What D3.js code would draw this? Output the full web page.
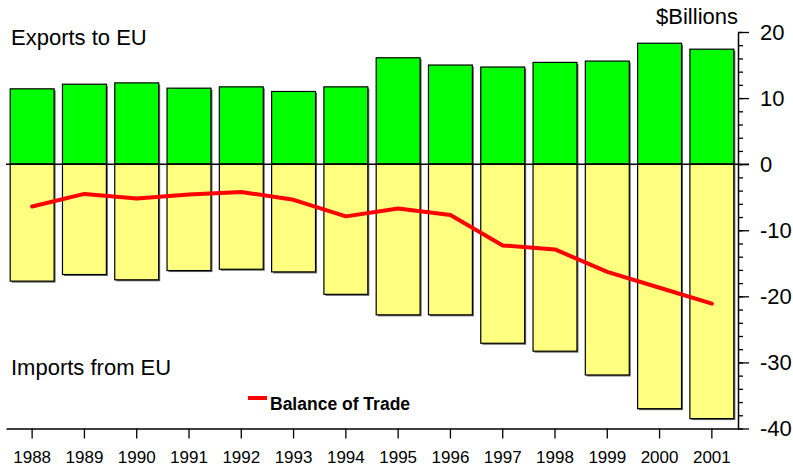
<!DOCTYPE html>
<html>
<head>
    <meta charset="utf-8">
    <style>
        body { margin: 0; background: #fff; }
        svg text { font-family: Arial, "Liberation Sans", sans-serif; fill: #000; }
        .label { font-size: 22px; }
        .legend { font-size: 17.5px; font-weight: bold; }
        .yaxis text { font-size: 22px; }
        .xaxis text { font-size: 17px; }
    </style>
    <script src="https://d3js.org/d3.v7.min.js"></script>
</head>
<body>
    <script>

        // values, $ billions
        var years = ["1988","1989","1990","1991","1992","1993","1994",
                     "1995","1996","1997","1998","1999","2000","2001"];
        var exportsToEU = [11.4, 12.1, 12.3, 11.5, 11.7, 11.0, 11.7,
                           16.1, 15.0, 14.7, 15.4, 15.6, 18.3, 17.4];
        var importsFromEU = [-17.7, -16.7, -17.5, -16.1, -15.9, -16.3, -19.7,
                             -22.8, -22.8, -27.1, -28.3, -31.9, -37.0, -38.5];
        var balanceOfTrade = [-6.4, -4.5, -5.2, -4.6, -4.2, -5.4, -7.9,
                              -6.7, -7.7, -12.3, -12.9, -16.3, -18.7, -21.1];
        var majorTicks = [20, 10, 0, -10, -20, -30, -40];
        var minorTicks = d3.range(-40, 21, 2);

        var width = 793,
            height = 470,
            svg = d3.select("body").append("svg").attr("width", width).attr("height", height);

        var x = d3.scaleBand()
                  .domain(years)
                  .range([6, 738])
                  .paddingInner(0.16)
                  .paddingOuter(0.08);

        var y = d3.scaleLinear()
                  .domain([-40, 20])
                  .range([428.5, 32]);

        var mid = function(d) { return x(d) + x.bandwidth() / 2; };

        var data = years.map(function(yr, i) {
            return { year: yr, exp: exportsToEU[i], imp: importsFromEU[i], bal: balanceOfTrade[i] };
        });

        // shadow behind the bars
        var shadow = svg.append("g").attr("fill", "#666");
        shadow.selectAll(".se")
              .data(data).enter().append("rect")
              .attr("x", function(d) { return x(d.year) + 1.5; })
              .attr("y", function(d) { return y(d.exp) + 1.5; })
              .attr("width", x.bandwidth())
              .attr("height", function(d) { return y(d.imp) - y(d.exp); });

        svg.append("g").selectAll("rect")
           .data(data).enter().append("rect")
           .attr("x", function(d) { return x(d.year); })
           .attr("y", function(d) { return y(d.exp); })
           .attr("width", x.bandwidth())
           .attr("height", function(d) { return y(0) - y(d.exp); })
           .attr("fill", "#00ff00")
           .attr("stroke", "#000")
           .attr("stroke-width", 1.2);

        svg.append("g").selectAll("rect")
           .data(data).enter().append("rect")
           .attr("x", function(d) { return x(d.year); })
           .attr("y", y(0))
           .attr("width", x.bandwidth())
           .attr("height", function(d) { return y(d.imp) - y(0); })
           .attr("fill", "#ffff80")
           .attr("stroke", "#000")
           .attr("stroke-width", 1.2);

        // zero line
        svg.append("line")
           .attr("x1", 6).attr("x2", 749)
           .attr("y1", y(0)).attr("y2", y(0))
           .attr("stroke", "#000")
           .attr("stroke-width", 1.5);

        // axes
        var yMinor = svg.append("g")
           .attr("transform", "translate(738,0)")
           .call(d3.axisRight(y).tickValues(minorTicks).tickSize(5).tickSizeOuter(0).tickFormat(""));
        yMinor.selectAll("line").attr("stroke-width", 1.3);
        yMinor.select(".domain").attr("stroke-width", 1.5);

        var yAxis = svg.append("g")
           .attr("class", "yaxis")
           .attr("transform", "translate(738,0)")
           .call(d3.axisRight(y).tickValues(majorTicks).tickSize(11).tickSizeOuter(0).tickPadding(11)
                   .tickFormat(function(d) { return String(d); }));
        yAxis.attr("font-family", null).attr("font-size", null);
        yAxis.selectAll("line").attr("stroke-width", 1.3);
        yAxis.select(".domain").remove();

        var xAxis = svg.append("g")
           .attr("class", "xaxis")
           .attr("transform", "translate(0," + y(-40) + ")")
           .call(d3.axisBottom(x).tickSize(10).tickSizeOuter(0).tickPadding(12.5));
        xAxis.attr("font-family", null).attr("font-size", null);
        xAxis.selectAll("line").attr("stroke-width", 1.3);
        xAxis.select(".domain").attr("stroke-width", 1.5);

        // balance of trade line
        var line = d3.line()
                     .x(function(d) { return mid(d.year); })
                     .y(function(d) { return y(d.bal); });

        svg.append("path")
           .datum(data)
           .attr("d", line)
           .attr("fill", "none")
           .attr("stroke", "#ff0000")
           .attr("stroke-width", 4)
           .attr("stroke-linejoin", "round")
           .attr("stroke-linecap", "round");

        // labels
        svg.append("text").attr("class", "label").attr("x", 11).attr("y", 45).text("Exports to EU");
        svg.append("text").attr("class", "label").attr("x", 11).attr("y", 375).text("Imports from EU");
        svg.append("text").attr("class", "label").attr("x", 738).attr("y", 24)
           .attr("text-anchor", "end").text("$Billions");

        // legend
        svg.append("line")
           .attr("x1", 248).attr("x2", 267)
           .attr("y1", 398).attr("y2", 398)
           .attr("stroke", "#ff0000")
           .attr("stroke-width", 4);
        svg.append("text").attr("class", "legend").attr("x", 270).attr("y", 410).text("Balance of Trade");
    </script>
</body>
</html>
